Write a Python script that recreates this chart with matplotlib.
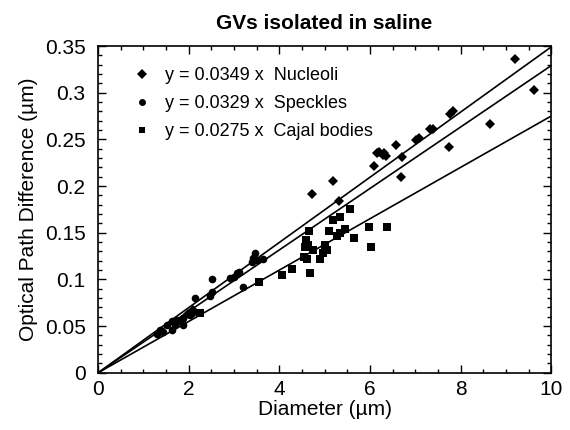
import numpy as np
import matplotlib
matplotlib.use("Agg")
import matplotlib.pyplot as plt
from matplotlib.lines import Line2D
from matplotlib.ticker import MultipleLocator

plt.rcParams["font.family"] = ["Liberation Sans", "DejaVu Sans"]

# ---------------------------------------------------------------------------
# Data (diameter in um, OPD in um)
# ---------------------------------------------------------------------------
nucleoli_x = [9.20, 9.62, 8.65, 7.83, 7.77, 7.75, 7.40, 7.33, 7.09, 7.02,
              6.58, 6.70, 6.68, 6.30, 6.36, 6.21, 6.28, 6.15, 6.08, 5.18,
              5.31, 4.73, 2.10, 1.99]
nucleoli_y = [0.336, 0.303, 0.267, 0.280, 0.277, 0.242, 0.261, 0.261, 0.252, 0.249,
              0.244, 0.231, 0.210, 0.235, 0.232, 0.237, 0.233, 0.235, 0.222, 0.205,
              0.184, 0.192, 0.067, 0.063]

speckles_x = [3.47, 3.50, 3.43, 3.65, 3.39, 3.06, 2.99, 2.91, 3.11, 3.19,
              2.51, 2.51, 2.47, 2.14, 2.07, 2.03, 1.88, 1.85, 1.81, 1.74,
              1.70, 1.63, 1.63, 1.52, 1.44, 1.37, 1.30, 1.88]
speckles_y = [0.128, 0.121, 0.123, 0.122, 0.119, 0.107, 0.103, 0.102, 0.108, 0.092,
              0.100, 0.087, 0.082, 0.080, 0.064, 0.062, 0.059, 0.057, 0.055, 0.057,
              0.051, 0.055, 0.046, 0.051, 0.044, 0.046, 0.042, 0.051]

cajal_x = [5.56, 5.33, 5.19, 5.97, 6.37, 5.45, 5.34, 5.27, 5.65, 6.02,
           4.66, 5.10, 4.59, 4.64, 4.57, 4.75, 5.01, 5.05, 4.97, 4.89,
           4.55, 4.62, 4.28, 4.05, 4.68, 3.55, 2.25]
cajal_y = [0.175, 0.167, 0.164, 0.156, 0.156, 0.154, 0.150, 0.146, 0.144, 0.135,
           0.152, 0.152, 0.142, 0.137, 0.135, 0.132, 0.137, 0.132, 0.128, 0.122,
           0.124, 0.122, 0.111, 0.105, 0.107, 0.097, 0.064]

slopes = [0.0349, 0.0329, 0.0275]
names = ["Nucleoli", "Speckles", "Cajal bodies"]
y_tick_labels = ["0", "0.05", "0.1", "0.15", "0.2", "0.25", "0.3", "0.35"]

markers = ["D", "o", "s"]
marker_sizes = [5.5, 5.5, 5.8]
legend_marker_sizes = [5.5, 5.0, 4.6]


def main() -> None:
    fig = plt.figure(figsize=(5.7, 4.3), dpi=100)
    ax = fig.add_axes([0.172, 0.133, 0.795, 0.760])

    series = [(nucleoli_x, nucleoli_y), (speckles_x, speckles_y), (cajal_x, cajal_y)]
    for (xs, ys), mk, ms in zip(series, markers, marker_sizes):
        ax.plot(xs, ys, linestyle="none", marker=mk, markersize=ms,
                color="black", markeredgewidth=0)

    # Regression lines through the origin
    x_line = np.array([0.0, 10.0])
    for slope in slopes:
        ax.plot(x_line, slope * x_line, color="black", linewidth=1.2)

    ax.set_xlim(0, 10)
    ax.set_ylim(0, 0.35)
    ax.xaxis.set_major_locator(MultipleLocator(2))
    ax.xaxis.set_minor_locator(MultipleLocator(0.5))
    ax.set_yticks(np.arange(0, 0.351, 0.05))
    ax.set_yticklabels(y_tick_labels)
    ax.yaxis.set_minor_locator(MultipleLocator(0.01))
    ax.tick_params(which="both", direction="in", top=True, right=True, labelsize=15, width=1)
    ax.tick_params(which="major", length=6)
    ax.tick_params(which="minor", length=3)
    ax.tick_params(axis="y", which="major", pad=9)
    ax.tick_params(axis="x", which="major", pad=5)
    for spine in ax.spines.values():
        spine.set_linewidth(1.2)

    ax.set_xlabel("Diameter (\u00b5m)", fontsize=15, labelpad=1)
    ax.set_ylabel("Optical Path Difference (\u00b5m)", fontsize=15, labelpad=5)
    ax.set_title("GVs isolated in saline", fontsize=15, fontweight="bold", pad=12)

    handles = [Line2D([], [], linestyle="none", marker=mk, color="black",
                      markersize=ms, markeredgewidth=0)
               for mk, ms in zip(markers, legend_marker_sizes)]
    labels = [f"y = {s:.4f} x  {n}" for s, n in zip(slopes, names)]
    ax.legend(handles, labels, loc="upper left", frameon=False, fontsize=13,
              handlelength=0.6, handletextpad=1.0, labelspacing=0.6,
              borderaxespad=0.0, borderpad=0.0, bbox_to_anchor=(0.085, 0.935))

    fig.savefig("out.png", dpi=100)
    plt.close(fig)


if __name__ == "__main__":
    main()
